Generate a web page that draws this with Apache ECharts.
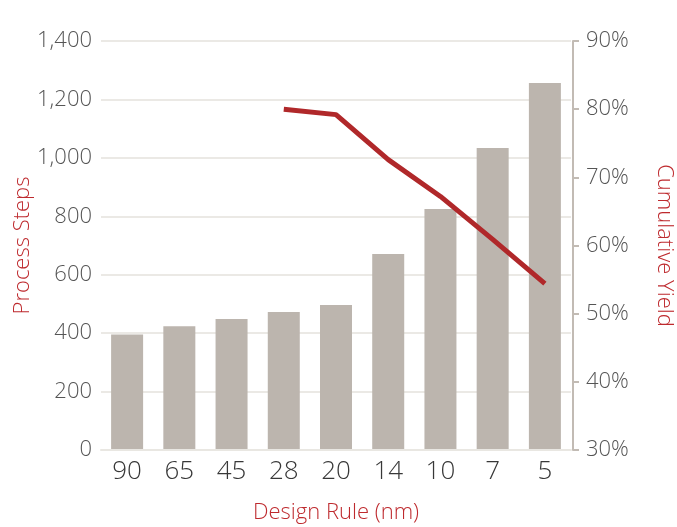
<!DOCTYPE html>
<html>
<head>
<meta charset="utf-8">
<script src="https://cdn.jsdelivr.net/npm/echarts@6/dist/echarts.min.js"></script>
<style>html,body{margin:0;padding:0;background:#fff;}#c{width:677px;height:527px;}</style>
</head>
<body>
<div id="c"></div>
<script>
const categories = ['90','65','45','28','20','14','10','7','5'];
const processSteps = [395, 424, 448, 472, 496, 671, 825, 1034, 1256];
const cumulativeYield = [null, null, null, 80.0, 79.2, 72.6, 67.2, 60.9, 54.4];
const leftTicks = {min: 0, max: 1400, interval: 200};
const rightTicks = {min: 30, max: 90, interval: 10};

const FONT = '"Open Sans"';
const RED = '#be2a2e';
const chart = echarts.init(document.getElementById('c'));
chart.setOption({
  animation: false,
  backgroundColor: '#fff',
  textStyle: {fontFamily: FONT},
  grid: {left: 101, right: 106, top: 41, bottom: 77, containLabel: false, outerBoundsMode: 'none'},
  xAxis: {
    type: 'category',
    data: categories,
    name: 'Design Rule (nm)',
    nameLocation: 'middle',
    nameGap: 52,
    nameTextStyle: {color: RED, fontSize: 22, fontWeight: 300, fontFamily: FONT},
    axisLine: {lineStyle: {color: '#e9e7e2', width: 2}},
    axisTick: {show: false},
    axisLabel: {color: '#383838', fontSize: 26, fontWeight: 300, margin: 9, fontFamily: FONT},
    z: 3
  },
  yAxis: [{
    type: 'value',
    min: leftTicks.min, max: leftTicks.max, interval: leftTicks.interval,
    name: 'Process Steps',
    nameLocation: 'middle',
    nameGap: 67,
    nameMoveOverlap: false,
    nameRotate: 90,
    nameTextStyle: {color: RED, fontSize: 22, fontWeight: 300, fontFamily: FONT},
    axisLine: {show: false},
    axisTick: {show: false},
    axisLabel: {color: '#555555', fontSize: 22, fontWeight: 300, margin: 9, fontFamily: FONT,
      formatter: v => v.toLocaleString('en-US')},
    splitLine: {lineStyle: {color: '#ebe9e5', width: 2}}
  }, {
    type: 'value',
    position: 'right',
    offset: 2,
    min: rightTicks.min, max: rightTicks.max, interval: rightTicks.interval,
    name: 'Cumulative Yield',
    nameLocation: 'middle',
    nameGap: 80,
    nameRotate: -90,
    nameTextStyle: {color: RED, fontSize: 22, fontWeight: 300, fontFamily: FONT},
    axisLine: {show: true, lineStyle: {color: '#c2bbb4', width: 2}},
    axisTick: {show: true, length: 6, lineStyle: {color: '#c2bbb4', width: 2}},
    axisLabel: {color: '#555555', fontSize: 22, fontWeight: 300, margin: 13, fontFamily: FONT, formatter: '{value}%'},
    splitLine: {show: false}
  }],
  series: [{
    type: 'bar',
    data: processSteps,
    yAxisIndex: 0,
    barWidth: 32,
    itemStyle: {color: '#bcb5ae'}
  }, {
    type: 'line',
    data: cumulativeYield,
    yAxisIndex: 1,
    symbol: 'none',
    lineStyle: {color: '#b0282a', width: 5},
    z: 5
  }]
});
</script>
</body>
</html>
